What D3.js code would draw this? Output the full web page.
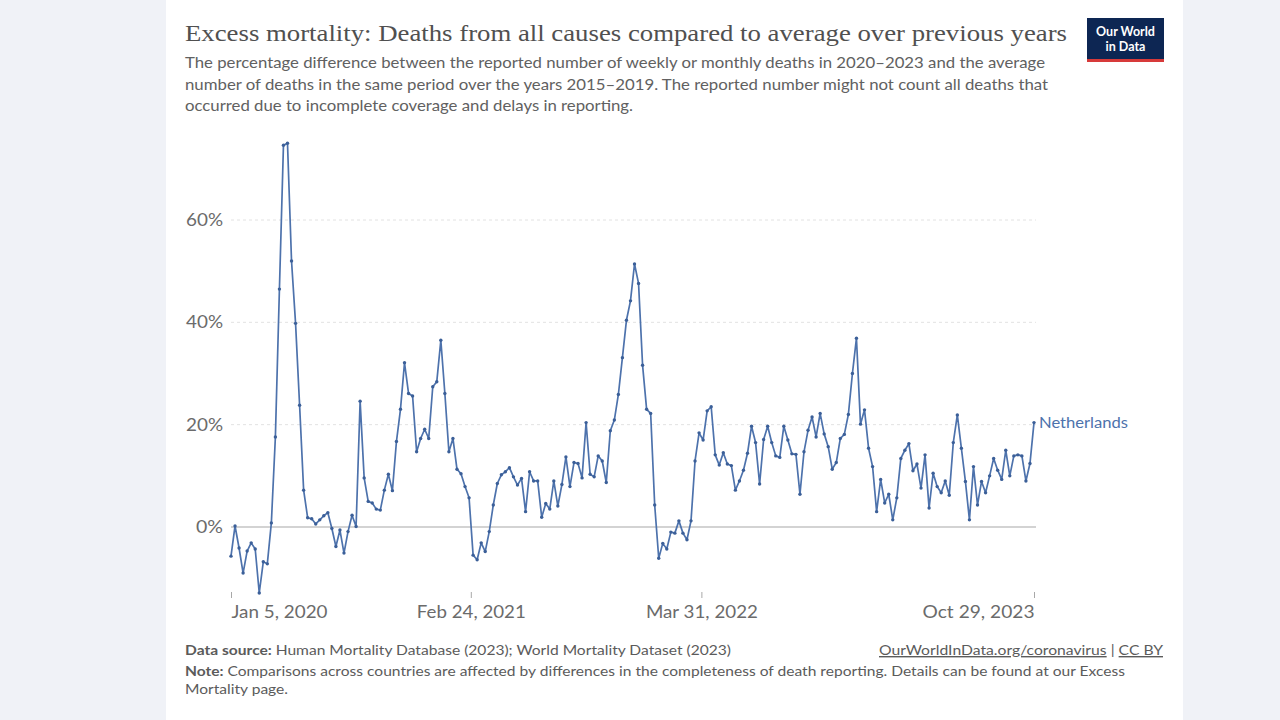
<!DOCTYPE html>
<html>
<head>
<meta charset="utf-8">
<script src="https://cdn.jsdelivr.net/npm/d3@7"></script>
<style>
  html, body { margin: 0; padding: 0; background: #f0f2f7; }
  svg { display: block; }
  text { font-family: Lato, "Noto Sans", sans-serif; }
  text.serif { font-family: "Liberation Serif", "DejaVu Serif", serif; }
</style>
</head>
<body>
<svg id="chart" width="1280" height="720"></svg>
<script>
// ---- Data ----
const seriesName = "Netherlands";
const startDate = "2020-01-05";
const excessPct = [
  -5.7, 0.2, -4.1, -9.0, -4.7, -3.1, -4.3, -12.9, -6.8, -7.2,
  0.8, 17.6, 46.5, 74.6, 75.0, 52.0, 39.8, 23.8, 7.2, 1.8,
  1.6, 0.6, 1.4, 2.2, 2.8, -0.3, -3.8, -0.6, -5.1, -0.9,
  2.3, 0.1, 24.6, 9.6, 5.0, 4.7, 3.5, 3.3, 7.2, 10.3,
  7.1, 16.7, 23.0, 32.1, 26.1, 25.6, 14.7, 17.3, 19.1, 17.3,
  27.4, 28.4, 36.5, 26.1, 14.7, 17.3, 11.3, 10.4, 7.9, 5.7,
  -5.5, -6.4, -3.1, -4.8, -0.9, 4.3, 8.5, 10.2, 10.8, 11.6,
  9.8, 8.2, 9.5, 3.0, 10.8, 9.0, 9.0, 1.9, 4.6, 3.5,
  9.0, 4.1, 8.3, 13.7, 7.9, 12.6, 12.4, 9.6, 20.4, 10.3,
  9.8, 13.9, 12.9, 8.7, 18.8, 20.9, 25.9, 33.1, 40.4, 44.2,
  51.4, 47.6, 31.6, 23.0, 22.2, 4.3, -6.1, -3.2, -4.3, -1.0,
  -1.2, 1.2, -1.2, -2.5, 1.2, 12.9, 18.4, 17.0, 22.7, 23.5,
  14.1, 12.1, 14.5, 12.3, 12.0, 7.2, 9.0, 11.1, 14.4, 19.7,
  16.5, 8.4, 17.1, 19.7, 16.5, 13.9, 13.6, 19.7, 17.0, 14.3,
  14.2, 6.4, 14.7, 18.9, 21.5, 17.6, 22.2, 18.2, 15.7, 11.3,
  12.6, 17.3, 18.1, 22.0, 30.0, 36.9, 20.1, 22.9, 15.4, 11.8,
  3.0, 9.3, 4.7, 6.4, 1.4, 5.7, 13.4, 15.0, 16.3, 11.0,
  12.3, 7.6, 14.1, 3.7, 10.5, 7.9, 6.7, 9.0, 6.2, 16.5,
  21.9, 15.4, 8.9, 1.4, 11.8, 4.3, 8.9, 6.7, 10.0, 13.4,
  11.1, 9.3, 15.0, 10.0, 13.9, 14.1, 13.9, 9.0, 12.4, 20.4
];
const yTicks = [0, 20, 40, 60];
const xTickDates = ["2020-01-05", "2021-02-24", "2022-03-31", "2023-10-29"];
const xTickLabels = ["Jan 5, 2020", "Feb 24, 2021", "Mar 31, 2022", "Oct 29, 2023"];

const titleText = "Excess mortality: Deaths from all causes compared to average over previous years";
const subtitleLines = [
  "The percentage difference between the reported number of weekly or monthly deaths in 2020–2023 and the average",
  "number of deaths in the same period over the years 2015–2019. The reported number might not count all deaths that",
  "occurred due to incomplete coverage and delays in reporting."
];

// ---- Build ----
const parse = d3.utcParse("%Y-%m-%d");
const t0 = parse(startDate);
const data = excessPct.map((v, i) => ({ date: d3.utcDay.offset(t0, 7 * i), value: v }));

const svg = d3.select("#chart");

// card
svg.append("rect").attr("x", 166).attr("y", 0).attr("width", 1017).attr("height", 720).attr("fill", "#ffffff");

// title
svg.append("text").attr("class", "serif").attr("x", 185).attr("y", 41)
  .attr("font-size", 24).attr("fill", "#505050")
  .attr("textLength", 882).attr("lengthAdjust", "spacingAndGlyphs")
  .text(titleText);

// subtitle
const subWidths = [860, 863, 448];
subtitleLines.forEach((s, i) => {
  svg.append("text").attr("x", 185).attr("y", 68 + i * 21.5)
    .attr("font-size", 15).attr("fill", "#616161")
    .attr("textLength", subWidths[i]).attr("lengthAdjust", "spacingAndGlyphs")
    .text(s);
});

// logo
const logo = svg.append("g");
logo.append("rect").attr("x", 1087).attr("y", 18).attr("width", 77).attr("height", 44).attr("fill", "#0d2653");
logo.append("rect").attr("x", 1087).attr("y", 59).attr("width", 77).attr("height", 3).attr("fill", "#d73a3a");
logo.append("text").attr("x", 1125.5).attr("y", 36).attr("text-anchor", "middle")
  .attr("font-size", 12.5).attr("font-weight", 700).attr("fill", "#ffffff").text("Our World");
logo.append("text").attr("x", 1125.5).attr("y", 51).attr("text-anchor", "middle")
  .attr("font-size", 12.5).attr("font-weight", 700).attr("fill", "#ffffff").text("in Data");

// scales
const x = d3.scaleUtc().domain([t0, data[data.length - 1].date]).range([231, 1034]);
const y = d3.scaleLinear().domain([0, 60]).range([527, 220]);

// grid
const gridG = svg.append("g");
yTicks.forEach(t => {
  gridG.append("line")
    .attr("x1", 231).attr("x2", 1036)
    .attr("y1", y(t)).attr("y2", y(t))
    .attr("stroke", t === 0 ? "#c4c4c4" : "#e2e2e2")
    .attr("stroke-width", t === 0 ? 1.5 : 1)
    .attr("stroke-dasharray", t === 0 ? null : "3,3");
  gridG.append("text")
    .attr("x", 223).attr("y", y(t)).attr("dy", "0.35em")
    .attr("text-anchor", "end").attr("font-size", 17.5).attr("fill", "#6b6b6b")
    .attr("textLength", t === 0 ? 27 : 37).attr("lengthAdjust", "spacingAndGlyphs")
    .text(t + "%");
});

// x axis
const xLabelWidths = [96, 109, 112, 112];
const xAxis = d3.axisBottom(x)
  .tickValues(xTickDates.map(parse))
  .tickFormat((d, i) => xTickLabels[i])
  .tickSize(6).tickPadding(8);
const xg = svg.append("g").attr("transform", "translate(0,592)").call(xAxis);
xg.select(".domain").remove();
xg.selectAll(".tick line").attr("stroke", "#a8a8a8");
xg.selectAll(".tick text")
  .attr("font-size", 17.5).attr("fill", "#6b6b6b")
  .attr("text-anchor", (d, i) => i === 0 ? "start" : (i === xTickDates.length - 1 ? "end" : "middle"))
  .attr("textLength", (d, i) => xLabelWidths[i]).attr("lengthAdjust", "spacingAndGlyphs");

// line
const lineColor = "#4d72ac";
svg.append("path").datum(data)
  .attr("fill", "none").attr("stroke", lineColor).attr("stroke-width", 1.7)
  .attr("stroke-linejoin", "round")
  .attr("d", d3.line().x(d => x(d.date)).y(d => y(d.value)));
svg.append("g").selectAll("circle").data(data).join("circle")
  .attr("cx", d => x(d.date)).attr("cy", d => y(d.value)).attr("r", 1.7)
  .attr("fill", "#3b5f98");

// series label
const last = data[data.length - 1];
svg.append("text").attr("x", x(last.date) + 5).attr("y", y(last.value)).attr("dy", "0.35em")
  .attr("font-size", 15.5).attr("fill", "#4d72ac")
  .attr("textLength", 89).attr("lengthAdjust", "spacingAndGlyphs").text(seriesName);

// footer
const fs = 14;
const f1 = svg.append("text").attr("x", 185).attr("y", 655).attr("font-size", fs).attr("fill", "#5b5b5b")
  .attr("textLength", 546).attr("lengthAdjust", "spacingAndGlyphs");
f1.append("tspan").attr("font-weight", 700).text("Data source: ");
f1.append("tspan").text("Human Mortality Database (2023); World Mortality Dataset (2023)");

const f2 = svg.append("text").attr("x", 1163).attr("y", 655).attr("text-anchor", "end").attr("font-size", fs).attr("fill", "#5b5b5b")
  .attr("textLength", 284).attr("lengthAdjust", "spacingAndGlyphs");
f2.append("tspan").attr("text-decoration", "underline").text("OurWorldInData.org/coronavirus");
f2.append("tspan").text(" | ");
f2.append("tspan").attr("text-decoration", "underline").text("CC BY");

const f3 = svg.append("text").attr("x", 185).attr("y", 676).attr("font-size", fs).attr("fill", "#5b5b5b")
  .attr("textLength", 940).attr("lengthAdjust", "spacingAndGlyphs");
f3.append("tspan").attr("font-weight", 700).text("Note: ");
f3.append("tspan").text("Comparisons across countries are affected by differences in the completeness of death reporting. Details can be found at our Excess");
svg.append("text").attr("x", 185).attr("y", 694).attr("font-size", fs).attr("fill", "#5b5b5b")
  .attr("textLength", 103).attr("lengthAdjust", "spacingAndGlyphs").text("Mortality page.");
</script>
</body>
</html>
